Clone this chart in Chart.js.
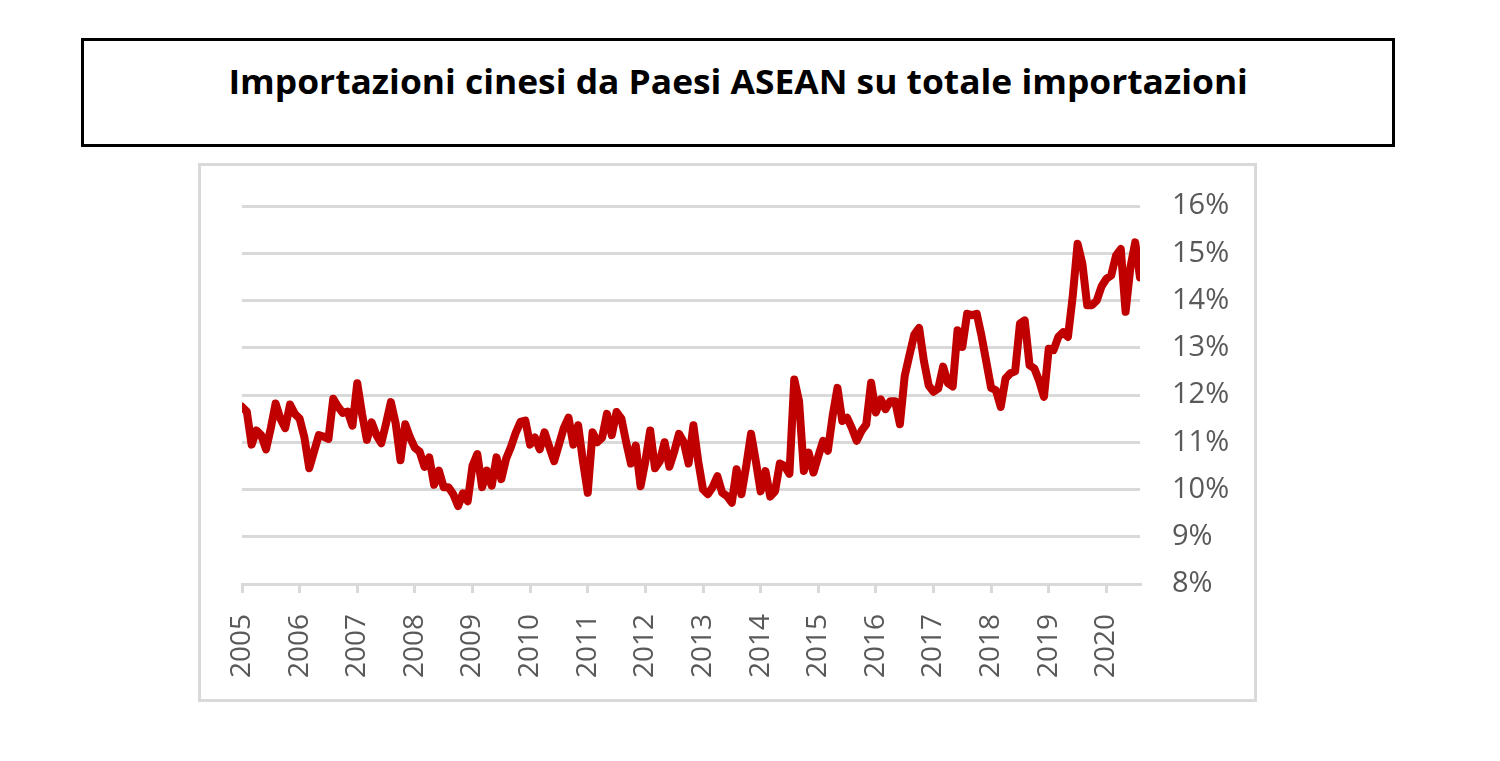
<!DOCTYPE html>
<html>
<head>
<meta charset="utf-8">
<script src="https://cdn.jsdelivr.net/npm/chart.js@4"></script>
<style>
  html, body { margin: 0; padding: 0; background: #fff; }
  body { width: 1500px; height: 761px; position: relative; overflow: hidden; }
  .title-box {
    position: absolute; left: 81px; top: 38px; width: 1314px; height: 109px;
    box-sizing: border-box; border: 3px solid #000;
    text-align: center;
  }
  .title-box span {
    display: inline-block; margin-top: 17px;
    font-family: "Open Sans", sans-serif; font-weight: bold; font-size: 34px;
    color: #000; white-space: nowrap; transform-origin: center;
  }
  .chart-frame {
    position: absolute; left: 198px; top: 163px; width: 1059px; height: 539px;
    box-sizing: border-box; border: 3px solid #d9d9d9;
  }
  .chart-wrap { position: absolute; left: 198px; top: 163px; width: 1059px; height: 539px; }
</style>
</head>
<body>
<div class="title-box"><span id="title">Importazioni cinesi da Paesi ASEAN su totale importazioni</span></div>
<div class="chart-frame"></div>
<div class="chart-wrap"><canvas id="chart"></canvas></div>
<script>
// quota % delle importazioni cinesi dai Paesi ASEAN, mensile gen 2005 - ago 2020
const YEARS = ['2005', '2006', '2007', '2008', '2009', '2010', '2011', '2012',
  '2013', '2014', '2015', '2016', '2017', '2018', '2019', '2020'];

const SHARE = [
  // 2005
  11.75, 11.65, 10.95, 11.25, 11.15, 10.85, 11.3, 11.82, 11.5, 11.3, 11.8, 11.6,
  // 2006
  11.5, 11.1, 10.45, 10.8, 11.15, 11.12, 11.07, 11.92, 11.75, 11.62, 11.65, 11.35,
  // 2007
  12.25, 11.6, 11.05, 11.42, 11.15, 10.98, 11.4, 11.85, 11.4, 10.62, 11.38, 11.1,
  // 2008
  10.88, 10.8, 10.48, 10.68, 10.1, 10.4, 10.05, 10.05, 9.9, 9.65, 9.92, 9.75,
  // 2009
  10.5, 10.75, 10.05, 10.4, 10.08, 10.68, 10.22, 10.65, 10.9, 11.2, 11.43, 11.46,
  // 2010
  10.95, 11.1, 10.85, 11.21, 10.9, 10.6, 10.95, 11.3, 11.52, 10.95, 11.36, 10.6,
  // 2011
  9.93, 11.21, 11.0, 11.1, 11.6, 11.15, 11.64, 11.5, 11.0, 10.55, 10.93, 10.07,
  // 2012
  10.6, 11.25, 10.45, 10.6, 11.0, 10.48, 10.8, 11.18, 11.0, 10.55, 11.36, 10.6,
  // 2013
  10.0, 9.9, 10.05, 10.28, 9.93, 9.86, 9.72, 10.43, 9.9, 10.5, 11.18, 10.6,
  // 2014
  9.96, 10.39, 9.85, 9.96, 10.55, 10.5, 10.33, 12.33, 11.87, 10.39, 10.78, 10.36,
  // 2015
  10.7, 11.03, 10.82, 11.56, 12.15, 11.45, 11.52, 11.3, 11.03, 11.24, 11.38, 12.26,
  // 2016
  11.63, 11.91, 11.7, 11.87, 11.87, 11.38, 12.4, 12.85, 13.28, 13.42, 12.72, 12.2,
  // 2017
  12.07, 12.14, 12.6, 12.25, 12.18, 13.37, 13.02, 13.72, 13.69, 13.72, 13.25, 12.7,
  // 2018
  12.15, 12.1, 11.75, 12.35, 12.46, 12.5, 13.51, 13.58, 12.63, 12.56, 12.3, 11.96,
  // 2019
  12.98, 12.95, 13.23, 13.33, 13.23, 14.1, 15.2, 14.78, 13.9, 13.9, 14.0, 14.3,
  // 2020
  14.46, 14.53, 14.95, 15.09, 13.76, 14.7, 15.23, 14.49
];

const Y_TICKS = [8, 9, 10, 11, 12, 13, 14, 15, 16];

const GRID = '#d9d9d9';
const TEXT = '#595959';
const RED = '#c00000';

// title width like the original (roughly 1020px)
const t = document.getElementById('title');
const w = t.getBoundingClientRect().width;
if (w > 0) t.style.transform = 'scaleX(' + (1020 / w).toFixed(3) + ')';

new Chart(document.getElementById('chart'), {
  type: 'line',
  data: {
    datasets: [{
      data: SHARE.map((v, i) => ({ x: i, y: v })),
      borderColor: RED,
      borderWidth: 8,
      pointRadius: 0,
      tension: 0,
      borderJoinStyle: 'round',
      borderCapStyle: 'round',
    }]
  },
  options: {
    responsive: true,
    maintainAspectRatio: false,
    animation: false,
    layout: { padding: { left: 44, top: 43, right: 0, bottom: 0 } },
    plugins: { legend: { display: false }, tooltip: { enabled: false } },
    scales: {
      x: {
        type: 'linear',
        min: 0,
        max: SHARE.length - 1,
        afterFit: s => { s.height = 118; s.paddingLeft = 0; s.paddingRight = 0; },
        afterBuildTicks: s => { s.ticks = YEARS.map((y, i) => ({ value: i * 12 })); },
        border: { display: true, color: GRID, width: 3 },
        grid: { drawOnChartArea: false, drawTicks: true, tickLength: 9, color: GRID, lineWidth: 3 },
        ticks: {
          minRotation: 90, maxRotation: 90, padding: 21, autoSkip: false,
          color: TEXT, font: { family: 'Open Sans', size: 28 },
          callback: v => YEARS[Math.round(v / 12)]
        }
      },
      y: {
        position: 'right',
        min: Y_TICKS[0],
        max: Y_TICKS[Y_TICKS.length - 1],
        afterFit: s => { s.width = 117; s.paddingTop = 0; s.paddingBottom = 0; },
        afterBuildTicks: s => { s.ticks = Y_TICKS.map(v => ({ value: v })); },
        border: { display: false },
        grid: { color: c => c.tick.value === 8 ? 'rgba(0,0,0,0)' : GRID, lineWidth: 3, drawTicks: false },
        ticks: {
          padding: 32, color: TEXT, font: { family: 'Open Sans', size: 29 },
          callback: v => v + '%'
        }
      }
    }
  }
});
</script>
</body>
</html>
